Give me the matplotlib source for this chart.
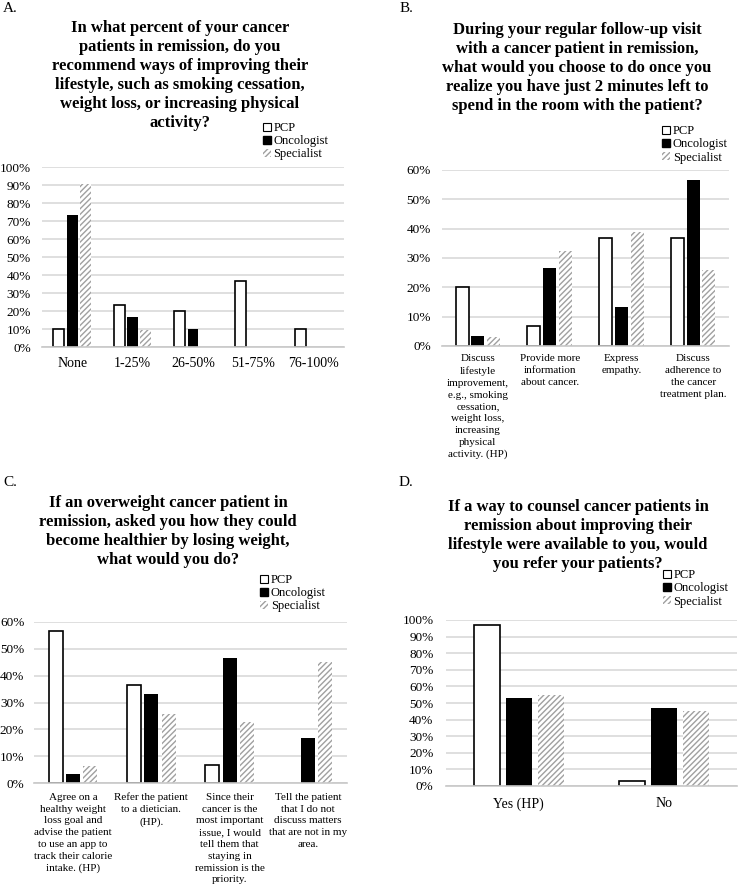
import numpy as np
import matplotlib
matplotlib.use('Agg')
import matplotlib.pyplot as plt
from matplotlib.patches import Patch
from matplotlib.ticker import PercentFormatter

plt.rcParams['font.family'] = ['Liberation Serif', 'DejaVu Serif']
plt.rcParams['hatch.linewidth'] = 1.0

groups = ['PCP', 'Oncologist', 'Specialist']

# panel A
catsA = ['None', '1-25%', '26-50%', '51-75%', '76-100%']
pcpA = [10.0, 23.3, 20.0, 36.7, 10.0]
oncA = [73.3, 16.7, 10.0, 0.0, 0.0]
specA = [90.3, 9.7, 0.0, 0.0, 0.0]

# panel B
catsB = ['Discuss\nlifestyle\nimprovement,\ne.g., smoking\ncessation,\nweight loss,\nincreasing\nphysical\nactivity. (HP)',
         'Provide more\ninformation\nabout cancer.',
         'Express\nempathy.',
         'Discuss\nadherence to\nthe cancer\ntreatment plan.']
pcpB = [20.0, 6.7, 36.7, 36.7]
oncB = [3.3, 26.7, 13.3, 56.7]
specB = [3.2, 32.3, 38.7, 25.8]

# panel C
catsC = ['Agree on a\nhealthy weight\nloss goal and\nadvise the patient\nto use an app to\ntrack their calorie\nintake. (HP)',
         'Refer the patient\nto a dietician.\n(HP).',
         'Since their\ncancer is the\nmost important\nissue, I would\ntell them that\nstaying in\nremission is the\npriority.',
         'Tell the patient\nthat I do not\ndiscuss matters\nthat are not in my\narea.']
pcpC = [56.7, 36.7, 6.7, 0.0]
oncC = [3.3, 33.3, 46.7, 16.7]
specC = [6.5, 25.8, 22.6, 45.2]

# panel D
catsD = ['Yes (HP)', 'No']
pcpD = [96.7, 3.3]
oncD = [53.3, 46.7]
specD = [54.8, 45.2]

titles = [
    ['In what percent of your cancer', 'patients in remission, do you', 'recommend ways of improving their',
     'lifestyle, such as smoking cessation,', 'weight loss, or increasing physical', 'activity?'],
    ['During your regular follow-up visit', 'with a cancer patient in remission,',
     'what would you choose to do once you', 'realize you have just 2 minutes left to',
     'spend in the room with the patient?'],
    ['If an overweight cancer patient in', 'remission, asked you how they could',
     'become healthier by losing weight,', 'what would you do?'],
    ['If a way to counsel cancer patients in', 'remission about improving their',
     'lifestyle were available to you, would', 'you refer your patients?'],
]

W, H = 738, 891
fig = plt.figure(figsize=(W / 100, H / 100), dpi=100)


def px_axes(left, right, top, bottom):
    return fig.add_axes([left / W, 1 - bottom / H, (right - left) / W, (bottom - top) / H])


def draw(ax, cats, pcp, onc, spec, ymax, xsize, xpad, ypad, lsp):
    x = np.arange(len(cats))
    w = 0.18
    off = 0.22
    ax.set_axisbelow(True)
    lw = [1.2 if v > 0 else 0 for v in pcp]
    ax.bar(x - off, pcp, w, facecolor='white', edgecolor='black', linewidth=lw)
    ax.bar(x, onc, w, facecolor='black', edgecolor='black', linewidth=0)
    ax.bar(x + off, spec, w, facecolor='white', edgecolor='#a0a0a0', linewidth=0, hatch='//////')
    ax.set_xlim(-0.5, len(cats) - 0.5)
    ax.set_ylim(0, ymax)
    ax.set_yticks(np.arange(0, ymax + 0.1, 10))
    ax.yaxis.set_major_formatter(PercentFormatter(decimals=0))
    ax.set_xticks(x)
    ax.set_xticklabels(cats, fontsize=xsize, linespacing=lsp, va='top')
    ax.tick_params(axis='x', length=0, pad=xpad)
    ax.tick_params(axis='y', length=0, pad=ypad, labelsize=9.5)
    ax.grid(axis='y', color='#d9d9d9', linewidth=1.2)
    for s in ['top', 'right', 'left']:
        ax.spines[s].set_visible(False)
    ax.spines['bottom'].set_color('#c8c8c8')
    ax.spines['bottom'].set_linewidth(1.2)


def legend(xpx, ypx):
    handles = [Patch(facecolor='white', edgecolor='black', linewidth=0.8),
               Patch(facecolor='black', edgecolor='black'),
               Patch(facecolor='white', edgecolor='#a0a0a0', linewidth=0, hatch='//////')]
    fig.legend(handles, groups, loc='upper left', bbox_to_anchor=(xpx / W, 1 - ypx / H),
               frameon=False, fontsize=9, handlelength=0.6, handleheight=0.6,
               handletextpad=0.25, labelspacing=0.1, borderpad=0, borderaxespad=0)


axA = px_axes(42, 344, 167, 347)
draw(axA, catsA, pcpA, oncA, specA, 100, 10, 7, 8, 1.1)
axB = px_axes(442, 729, 170, 346)
draw(axB, catsB, pcpB, oncB, specB, 60, 8, 6, 8, 1.4)
axC = px_axes(34, 347, 622, 783)
draw(axC, catsC, pcpC, oncC, specC, 60, 8, 7, 7, 1.4)
axD = px_axes(446, 737, 620, 786)
draw(axD, catsD, pcpD, oncD, specD, 100, 10, 8, 9, 1.1)

# panel letters
for lab, xp, yp in [('A.', 3, 8), ('B.', 400, 8), ('C.', 3, 482), ('D.', 399, 482)]:
    fig.text(xp / W, 1 - yp / H, lab, fontsize=11, va='center', ha='left')

# titles, one text per line, 19 px apart
for lines, xc, yc in [(titles[0], 180, 28), (titles[1], 577, 30), (titles[2], 168, 503), (titles[3], 578, 507)]:
    for i, line in enumerate(lines):
        fig.text(xc / W, 1 - (yc + 19 * i) / H, line, fontsize=12, fontweight='bold',
                 ha='center', va='center')

legend(263, 122)
legend(662, 125)
legend(260, 574)
legend(663, 569)

fig.savefig('out.png', dpi=100)
